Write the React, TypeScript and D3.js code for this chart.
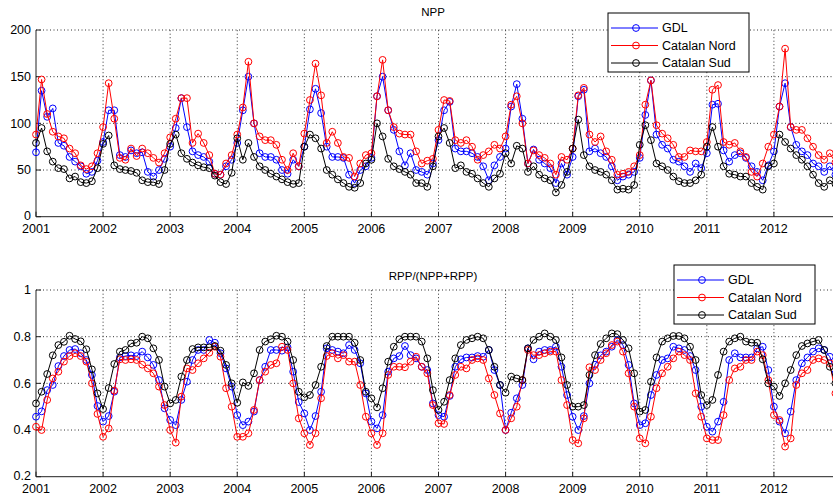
import React from "react";
import * as d3 from "d3";

const years = [2001, 2002, 2003, 2004, 2005, 2006, 2007, 2008, 2009, 2010, 2011, 2012];
const seriesNames = ["GDL", "Catalan Nord", "Catalan Sud"];
const seriesColors = ["#0000ff", "#ff0000", "#000000"];
const nppTicks = [0, 50, 100, 150, 200];
const rppTicks = [0.2, 0.4, 0.6, 0.8, 1];
const rppTickLabels = ["0.2", "0.4", "0.6", "0.8", "1"];

// NPP, monthly 2001-2012
const nppGDL = [
  69, 135, 107, 116, 79, 76, 64, 59, 54, 46, 48, 60,
  80, 114, 114, 66, 64, 71, 68, 69, 48, 43, 50, 62,
  75, 95, 127, 96, 70, 66, 64, 59, 46, 45, 54, 61,
  79, 114, 150, 100, 68, 64, 64, 61, 50, 46, 61, 54,
  75, 115, 137, 111, 75, 64, 64, 63, 45, 36, 50, 54,
  63, 129, 150, 114, 93, 70, 55, 68, 50, 48, 45, 57,
  82, 114, 123, 73, 70, 70, 68, 64, 54, 39, 55, 64,
  73, 118, 142, 105, 57, 72, 61, 57, 52, 36, 57, 45,
  64, 129, 136, 70, 73, 68, 64, 54, 39, 43, 45, 48,
  63, 109, 146, 88, 77, 73, 61, 59, 54, 48, 57, 52,
  68, 120, 121, 71, 59, 66, 68, 63, 54, 48, 39, 55,
  70, 118, 143, 96, 77, 70, 66, 57, 54, 48, 54, 45,
];
const nppNord = [
  88, 147, 110, 91, 86, 84, 73, 68, 55, 51, 54, 68,
  96, 143, 105, 63, 61, 73, 65, 73, 68, 63, 58, 68,
  85, 105, 127, 127, 79, 89, 79, 66, 46, 45, 57, 66,
  88, 117, 166, 100, 86, 82, 82, 77, 61, 50, 68, 54,
  89, 125, 164, 130, 79, 91, 79, 64, 63, 43, 57, 66,
  68, 129, 168, 114, 96, 89, 88, 88, 70, 57, 60, 62,
  93, 125, 124, 82, 79, 82, 75, 61, 66, 70, 77, 73,
  86, 120, 129, 100, 57, 71, 66, 63, 57, 45, 64, 61,
  73, 130, 138, 88, 80, 86, 70, 61, 45, 46, 48, 54,
  66, 120, 146, 98, 89, 84, 77, 64, 64, 71, 70, 70,
  80, 136, 141, 80, 77, 79, 70, 64, 48, 43, 57, 75,
  88, 118, 180, 96, 93, 93, 84, 75, 66, 61, 68, 58,
];
const nppSud = [
  79, 95, 70, 59, 52, 51, 41, 43, 37, 36, 38, 52,
  78, 87, 55, 51, 50, 49, 47, 39, 37, 37, 35, 50,
  78, 88, 68, 62, 58, 55, 53, 52, 44, 37, 35, 47,
  84, 61, 79, 64, 54, 50, 46, 43, 40, 37, 35, 36,
  75, 88, 84, 73, 50, 45, 40, 36, 32, 31, 36, 57,
  61, 100, 86, 62, 54, 51, 48, 45, 36, 36, 32, 54,
  86, 95, 79, 52, 55, 48, 46, 41, 36, 32, 41, 46,
  68, 57, 76, 73, 48, 54, 45, 41, 39, 26, 34, 48,
  73, 104, 66, 54, 50, 48, 45, 39, 29, 30, 29, 34,
  77, 98, 82, 57, 54, 50, 43, 38, 36, 36, 39, 45,
  75, 96, 75, 54, 46, 45, 43, 43, 36, 32, 29, 54,
  57, 88, 80, 73, 66, 61, 54, 45, 36, 32, 39, 35,
];

// RPP/(NPP+RPP), monthly 2001-2012
const rppGDL = [
  0.457, 0.48, 0.571, 0.593, 0.674, 0.717, 0.743, 0.747, 0.729, 0.70, 0.636, 0.503,
  0.436, 0.46, 0.564, 0.711, 0.717, 0.72, 0.717, 0.736, 0.711, 0.679, 0.614, 0.493,
  0.443, 0.421, 0.529, 0.607, 0.70, 0.743, 0.743, 0.786, 0.774, 0.729, 0.664, 0.586,
  0.464, 0.421, 0.436, 0.479, 0.614, 0.671, 0.743, 0.743, 0.74, 0.754, 0.65, 0.52,
  0.471, 0.40, 0.46, 0.564, 0.75, 0.743, 0.736, 0.729, 0.764, 0.743, 0.686, 0.557,
  0.436, 0.407, 0.464, 0.65, 0.707, 0.717, 0.76, 0.721, 0.707, 0.671, 0.657, 0.514,
  0.464, 0.457, 0.546, 0.671, 0.703, 0.711, 0.711, 0.717, 0.714, 0.743, 0.657, 0.593,
  0.40, 0.474, 0.536, 0.593, 0.75, 0.703, 0.736, 0.743, 0.743, 0.757, 0.671, 0.55,
  0.457, 0.40, 0.46, 0.60, 0.68, 0.72, 0.736, 0.757, 0.786, 0.764, 0.679, 0.514,
  0.421, 0.429, 0.55, 0.636, 0.70, 0.707, 0.757, 0.75, 0.743, 0.717, 0.657, 0.50,
  0.414, 0.393, 0.436, 0.521, 0.70, 0.729, 0.711, 0.711, 0.711, 0.75, 0.757, 0.657,
  0.50, 0.436, 0.386, 0.479, 0.614, 0.686, 0.711, 0.736, 0.75, 0.743, 0.714, 0.643,
];
const rppNord = [
  0.414, 0.40, 0.529, 0.621, 0.65, 0.693, 0.717, 0.729, 0.717, 0.693, 0.60, 0.469,
  0.371, 0.407, 0.569, 0.703, 0.70, 0.703, 0.70, 0.68, 0.664, 0.643, 0.586, 0.507,
  0.40, 0.346, 0.543, 0.664, 0.657, 0.686, 0.707, 0.731, 0.757, 0.714, 0.579, 0.50,
  0.371, 0.371, 0.386, 0.486, 0.614, 0.65, 0.679, 0.686, 0.757, 0.743, 0.60, 0.45,
  0.386, 0.336, 0.386, 0.536, 0.717, 0.729, 0.707, 0.721, 0.693, 0.693, 0.593, 0.457,
  0.386, 0.336, 0.386, 0.636, 0.671, 0.671, 0.669, 0.693, 0.714, 0.671, 0.643, 0.507,
  0.429, 0.426, 0.55, 0.636, 0.671, 0.664, 0.70, 0.707, 0.70, 0.621, 0.55, 0.471,
  0.40, 0.45, 0.50, 0.614, 0.743, 0.721, 0.721, 0.729, 0.736, 0.736, 0.614, 0.507,
  0.357, 0.343, 0.45, 0.669, 0.657, 0.70, 0.729, 0.764, 0.779, 0.736, 0.643, 0.50,
  0.364, 0.343, 0.457, 0.579, 0.643, 0.671, 0.707, 0.736, 0.721, 0.70, 0.557, 0.457,
  0.364, 0.357, 0.357, 0.464, 0.614, 0.664, 0.671, 0.70, 0.70, 0.736, 0.721, 0.614,
  0.464, 0.443, 0.329, 0.364, 0.593, 0.643, 0.657, 0.70, 0.707, 0.70, 0.686, 0.557,
];
const rppSud = [
  0.514, 0.564, 0.64, 0.72, 0.764, 0.778, 0.804, 0.79, 0.78, 0.746, 0.66, 0.557,
  0.49, 0.58, 0.683, 0.736, 0.743, 0.771, 0.774, 0.80, 0.793, 0.75, 0.70, 0.586,
  0.514, 0.529, 0.629, 0.70, 0.747, 0.754, 0.754, 0.754, 0.76, 0.74, 0.679, 0.60,
  0.517, 0.604, 0.589, 0.643, 0.743, 0.779, 0.789, 0.804, 0.80, 0.779, 0.70, 0.564,
  0.54, 0.55, 0.593, 0.671, 0.76, 0.80, 0.80, 0.80, 0.80, 0.774, 0.70, 0.564,
  0.536, 0.497, 0.579, 0.693, 0.757, 0.789, 0.80, 0.80, 0.80, 0.779, 0.707, 0.571,
  0.486, 0.521, 0.614, 0.707, 0.764, 0.786, 0.793, 0.80, 0.793, 0.743, 0.671, 0.593,
  0.56, 0.629, 0.621, 0.614, 0.75, 0.786, 0.80, 0.814, 0.80, 0.786, 0.711, 0.593,
  0.50, 0.50, 0.507, 0.636, 0.721, 0.769, 0.793, 0.814, 0.811, 0.786, 0.75, 0.643,
  0.479, 0.486, 0.607, 0.711, 0.779, 0.793, 0.803, 0.803, 0.793, 0.757, 0.70, 0.55,
  0.507, 0.529, 0.636, 0.736, 0.779, 0.793, 0.80, 0.779, 0.774, 0.774, 0.703, 0.60,
  0.586, 0.546, 0.60, 0.657, 0.721, 0.76, 0.771, 0.779, 0.786, 0.743, 0.671, 0.60,
];

const W = 833;
const H = 495;
const FONT = "'Liberation Sans', Arial, Helvetica, sans-serif";

const times = nppGDL.map((_, i) => years[0] + i / 12);
const x = d3.scaleLinear().domain([2001, 2013]).range([36, 841]);

type PanelProps = {
  title: string;
  titleY: number;
  y: d3.ScaleLinear<number, number>;
  ticks: number[];
  tickLabels: string[];
  data: number[][];
  legend: { x: number; y: number };
};

function Panel({ title, titleY, y, ticks, tickLabels, data, legend }: PanelProps) {
  const [y0, y1] = y.range();
  const x0 = x.range()[0];
  const xEnd = x.range()[1];
  const line = d3
    .line<number>()
    .x((_, i) => x(times[i]))
    .y((d) => y(d));
  return (
    <g>
      {/* grid */}
      {years.slice(1).map((t) => (
        <line key={"gx" + t} x1={x(t)} x2={x(t)} y1={y0} y2={y1} stroke="#333" strokeWidth={1} strokeDasharray="1,2.5" />
      ))}
      {ticks.slice(1).map((t) => (
        <line key={"gy" + t} x1={x0} x2={xEnd} y1={y(t)} y2={y(t)} stroke="#333" strokeWidth={1} strokeDasharray="1,2.5" />
      ))}
      {/* axes */}
      <line x1={x0} x2={x0} y1={y0} y2={y1} stroke="#222" strokeWidth={1} />
      <line x1={x0} x2={xEnd} y1={y0} y2={y0} stroke="#222" strokeWidth={1} />
      {ticks.map((t) => (
        <line key={"ty" + t} x1={x0} x2={x0 + 5} y1={y(t)} y2={y(t)} stroke="#222" strokeWidth={1} />
      ))}
      {years.map((t) => (
        <line key={"tx" + t} x1={x(t)} x2={x(t)} y1={y0} y2={y0 - 5} stroke="#222" strokeWidth={1} />
      ))}
      {/* tick labels */}
      {ticks.map((t, i) => (
        <text key={"ly" + t} x={x0 - 5} y={y(t) - (i === 0 ? 1 : 0)} dy="0.35em" textAnchor="end" fontSize={12.5} fontFamily={FONT} fill="#000">
          {tickLabels[i]}
        </text>
      ))}
      {years.map((t) => (
        <text key={"lx" + t} x={x(t)} y={y0 + 16.5} textAnchor="middle" fontSize={12.5} fontFamily={FONT} fill="#000">
          {t}
        </text>
      ))}
      <text x={433} y={titleY} textAnchor="middle" fontSize={11.5} fontFamily={FONT} fill="#000">
        {title}
      </text>
      {/* series */}
      {data.map((s, si) => (
        <g key={"s" + si}>
          <path d={line(s) || ""} fill="none" stroke={seriesColors[si]} strokeWidth={1} />
          {s.map((v, i) => (
            <circle key={i} cx={x(times[i])} cy={y(v)} r={3.4} fill="none" stroke={seriesColors[si]} strokeWidth={1} />
          ))}
        </g>
      ))}
      {/* legend */}
      <g transform={`translate(${legend.x},${legend.y})`}>
        <rect x={0} y={0} width={141} height={59} fill="#fff" stroke="#000" strokeWidth={1} />
        {seriesNames.map((n, i) => (
          <g key={n} transform={`translate(0,${15 + i * 17.5})`}>
            <line x1={3} x2={50} y1={0} y2={0} stroke={seriesColors[i]} strokeWidth={1} />
            <circle cx={28} cy={0} r={3.4} fill="none" stroke={seriesColors[i]} strokeWidth={1} />
            <text x={54} y={0} dy="0.35em" fontSize={12.5} fontFamily={FONT} fill="#000">
              {n}
            </text>
          </g>
        ))}
      </g>
    </g>
  );
}

export default function App() {
  const yTop = d3.scaleLinear().domain([0, 200]).range([216.7, 30]);
  const yBot = d3.scaleLinear().domain([0.2, 1]).range([476.7, 290]);
  return (
    <svg width={W} height={H} style={{ position: "absolute", left: 0, top: 0, background: "#fff" }}>
      <rect x={0} y={0} width={W} height={H} fill="#fff" />
      <Panel
        title="NPP"
        titleY={16}
        y={yTop}
        ticks={nppTicks}
        tickLabels={nppTicks.map(String)}
        data={[nppGDL, nppNord, nppSud]}
        legend={{ x: 608, y: 13 }}
      />
      <Panel
        title="RPP/(NPP+RPP)"
        titleY={280}
        y={yBot}
        ticks={rppTicks}
        tickLabels={rppTickLabels}
        data={[rppGDL, rppNord, rppSud]}
        legend={{ x: 674, y: 265 }}
      />
    </svg>
  );
}
